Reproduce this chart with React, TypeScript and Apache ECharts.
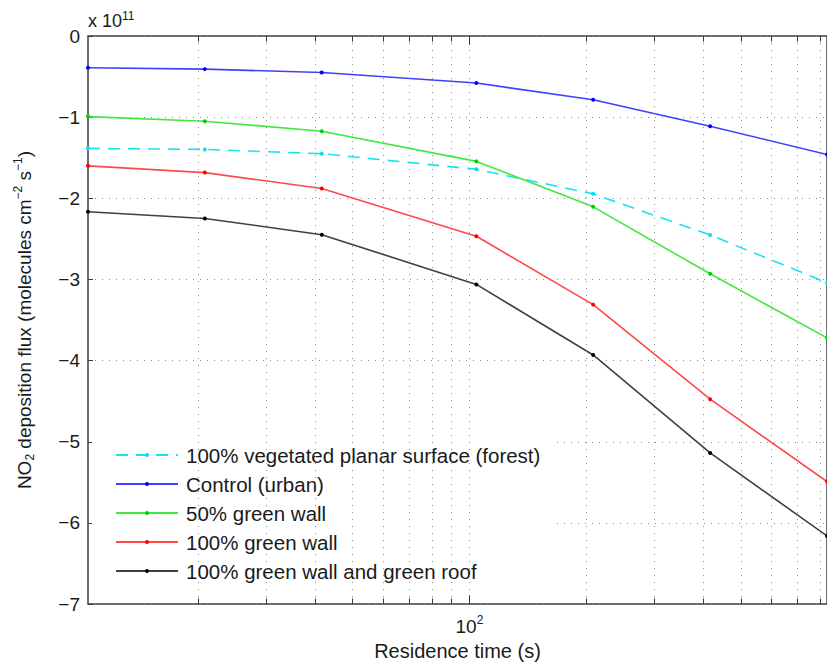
import React, { useEffect, useRef } from "react";
import * as echarts from "echarts";

// Residence time (s), log axis
const residenceTime = [10.42, 20.83, 41.67, 104.2, 208.3, 416.7, 833.3];

// NO2 deposition flux, in units of 1e11 molecules cm^-2 s^-1
const forest = [-1.385, -1.398, -1.45, -1.643, -1.945, -2.452, -3.04];
const controlUrban = [-0.392, -0.408, -0.45, -0.58, -0.785, -1.112, -1.46];
const greenWall50 = [-0.993, -1.05, -1.173, -1.545, -2.105, -2.93, -3.72];
const greenWall100 = [-1.6, -1.683, -1.88, -2.468, -3.31, -4.475, -5.49];
const greenWallRoof = [-2.166, -2.248, -2.448, -3.061, -3.93, -5.137, -6.16];

const seriesNames = [
  "100% vegetated planar surface (forest)",
  "Control (urban)",
  "50% green wall",
  "100% green wall",
  "100% green wall and green roof",
];

// log-axis grid/tick positions
const xGridValues = [20, 30, 40, 50, 60, 70, 80, 90, 100, 200, 300, 400, 500, 600, 700, 800];
const xMajorTick = 100;
const yMin = -7;
const yMax = 0;
const yInterval = 1;

const FONT = "'Liberation Sans', Arial, Helvetica, sans-serif";
const TEXT = "#1a1a1a";
const GRID = "#8a8a8a";

export default function App() {
  const ref = useRef<HTMLDivElement>(null);

  useEffect(() => {
    if (!ref.current) return;
    const chart = echarts.init(ref.current, undefined, { renderer: "svg" });

    const valueSets = [forest, controlUrban, greenWall50, greenWall100, greenWallRoof];
    const lineColors = ["#18e4ee", "#4040ff", "#40e840", "#ff4848", "#404040"];
    const pointColors = ["#00e0f0", "#0000ff", "#00d000", "#ff0000", "#000000"];
    const lineTypes: any[] = [[12, 8], "solid", "solid", "solid", "solid"];

    const dataSeries = seriesNames.map((name, i) => ({
      name,
      type: "line",
      data: residenceTime.map((x, j) => [x, valueSets[i][j]]),
      symbol: "circle",
      symbolSize: 4,
      showSymbol: true,
      lineStyle: { color: lineColors[i], width: 1.6, type: lineTypes[i] },
      itemStyle: { color: pointColors[i] },
      z: 3,
    }));

    const gridSeries = {
      name: "_grid",
      type: "line",
      data: [],
      silent: true,
      z: 1,
      markLine: {
        silent: true,
        symbol: ["none", "none"],
        label: { show: false },
        lineStyle: { color: GRID, type: [1, 6], width: 1 },
        emphasis: { disabled: true },
        data: xGridValues.map((v) => ({ xAxis: v })),
      },
    };

    const tickSeries = {
      name: "_ticks",
      type: "line",
      data: [],
      silent: true,
      z: 2,
      markLine: {
        silent: true,
        symbol: ["none", "none"],
        label: { show: false },
        lineStyle: { color: "#3c3c3c", type: "solid", width: 1 },
        emphasis: { disabled: true },
        data: xGridValues.flatMap((v) => {
          const len = v === xMajorTick ? 0.11 : 0.07;
          return [
            [{ coord: [v, yMin] }, { coord: [v, yMin + len] }],
            [{ coord: [v, yMax] }, { coord: [v, yMax - len] }],
          ];
        }),
      },
    };

    chart.setOption({
      animation: false,
      textStyle: { fontFamily: FONT },
      grid: {
        left: 88,
        top: 36,
        width: 744,
        height: 571,
        show: true,
        borderColor: "#3c3c3c",
        borderWidth: 1.5,
        backgroundColor: "transparent",
        containLabel: false,
      },
      xAxis: {
        type: "log",
        logBase: 10,
        min: residenceTime[0],
        max: residenceTime[residenceTime.length - 1],
        axisLine: { show: false },
        axisTick: { show: false },
        splitLine: { show: false },
        minorTick: { show: false },
        minorSplitLine: { show: false },
        axisLabel: {
          margin: 10,
          showMinLabel: false,
          showMaxLabel: false,
          formatter: (v: number) => (Math.abs(v - xMajorTick) < 1e-6 ? "{b|10}{s|2}" : ""),
          rich: {
            b: { fontSize: 19, fontFamily: FONT, color: TEXT, lineHeight: 22, verticalAlign: "bottom" },
            s: { fontSize: 12, fontFamily: FONT, color: TEXT, lineHeight: 10, verticalAlign: "top" },
          },
        },
        name: "Residence time (s)",
        nameLocation: "middle",
        nameGap: 31,
        nameTextStyle: { fontSize: 20, fontFamily: FONT, color: TEXT },
      },
      yAxis: {
        type: "value",
        min: yMin,
        max: yMax,
        interval: yInterval,
        axisLine: { show: false },
        axisTick: { show: true, inside: true, length: 5, lineStyle: { color: "#3c3c3c", width: 1 } },
        splitLine: { show: true, lineStyle: { color: GRID, type: [1, 6], width: 1 } },
        axisLabel: {
          fontSize: 19,
          fontFamily: FONT,
          color: TEXT,
          margin: 8,
          formatter: (v: number) => (v === 0 ? "0" : "\u2212" + Math.abs(v)),
        },
        name: "{a|NO}{sub|2}{a| deposition flux (molecules cm}{sup|\u22122}{a| s}{sup|\u22121}{a|)}",
        nameLocation: "middle",
        nameRotate: 90,
        nameGap: 52,
        nameTextStyle: {
          rich: {
            a: { fontSize: 19, fontFamily: FONT, color: TEXT, lineHeight: 24 },
            sub: { fontSize: 12, fontFamily: FONT, color: TEXT, lineHeight: 12, verticalAlign: "bottom" },
            sup: { fontSize: 12, fontFamily: FONT, color: TEXT, lineHeight: 10, verticalAlign: "top" },
          },
        },
      },
      legend: {
        data: seriesNames,
        orient: "vertical",
        left: 92,
        top: 436,
        padding: [8, 14, 6, 23],
        backgroundColor: "#ffffff",
        borderWidth: 0,
        itemWidth: 62,
        itemHeight: 5,
        itemGap: 7,
        selectedMode: false,
        textStyle: {
          fontSize: 20.5,
          fontFamily: FONT,
          color: TEXT,
          lineHeight: 22,
          padding: [0, 0, 0, 3],
        },
      },
      graphic: [
        {
          type: "text",
          left: 88,
          top: 10,
          style: {
            text: "{a|x 10}{s|11}",
            rich: {
              a: { fontSize: 18, fontFamily: FONT, fill: TEXT, lineHeight: 22 },
              s: { fontSize: 12, fontFamily: FONT, fill: TEXT, lineHeight: 8, verticalAlign: "top" },
            },
          },
        },
      ],
      series: [gridSeries, tickSeries, ...dataSeries],
    });

    return () => chart.dispose();
  }, []);

  return (
    <div
      ref={ref}
      style={{ position: "absolute", left: 0, top: 0, width: 827, height: 666, background: "#fff" }}
    />
  );
}
